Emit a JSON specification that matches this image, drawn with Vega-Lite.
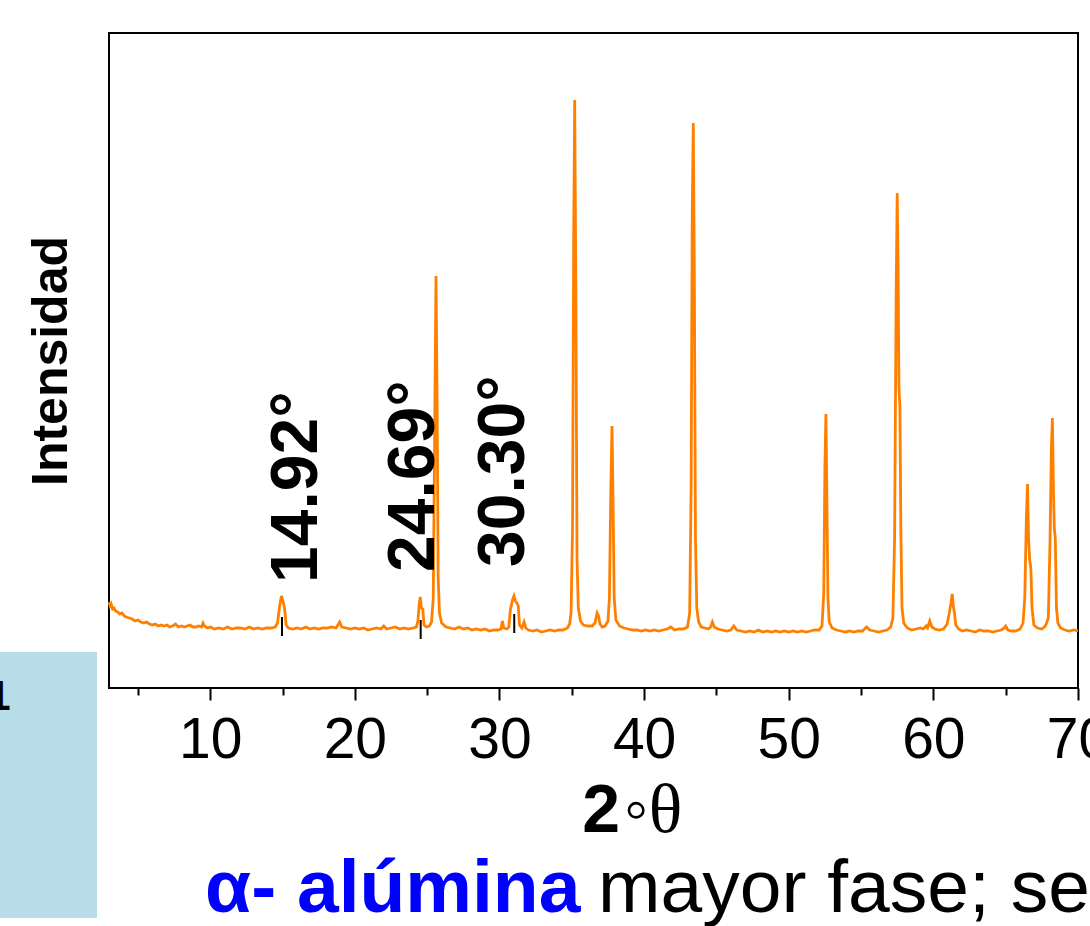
{
  "$schema": "https://vega.github.io/schema/vega-lite/v6.json",
  "width": 969,
  "height": 655,
  "autosize": {"type": "none"},
  "padding": {"left": 109, "top": 33, "right": 12, "bottom": 238},
  "background": "white",
  "config": {
    "view": {"stroke": "black", "strokeWidth": 2},
    "font": "Liberation Sans"
  },
  "datasets": {
    "xrd": [
      {"t":3.00,"i":86},{"t":3.08,"i":82},{"t":3.15,"i":84},{"t":3.25,"i":79},{"t":3.35,"i":80},{"t":3.45,"i":77},{"t":3.6,"i":76},{"t":3.75,"i":74},{"t":3.9,"i":75},{"t":4.05,"i":72},{"t":4.2,"i":71},{"t":4.4,"i":70},{"t":4.6,"i":69},{"t":4.8,"i":67},{"t":5.0,"i":68},{"t":5.2,"i":66},{"t":5.4,"i":65},{"t":5.6,"i":66},{"t":5.8,"i":64},{"t":6.0,"i":63},{"t":6.2,"i":64},{"t":6.4,"i":62},{"t":6.6,"i":63},{"t":6.8,"i":62},{"t":7.0,"i":63},{"t":7.2,"i":61},{"t":7.4,"i":62},{"t":7.6,"i":64},{"t":7.8,"i":61},{"t":8.0,"i":62},{"t":8.2,"i":61},{"t":8.4,"i":62},{"t":8.6,"i":63},{"t":8.8,"i":61},{"t":9.0,"i":61},{"t":9.2,"i":62},{"t":9.4,"i":61},{"t":9.5,"i":65},{"t":9.6,"i":62},{"t":9.8,"i":60},{"t":10.0,"i":61},{"t":10.3,"i":59},{"t":10.6,"i":60},{"t":10.9,"i":59},{"t":11.2,"i":61},{"t":11.5,"i":59},{"t":11.8,"i":60},{"t":12.1,"i":60},{"t":12.4,"i":59},{"t":12.7,"i":61},{"t":13.0,"i":59},{"t":13.3,"i":60},{"t":13.6,"i":59},{"t":13.9,"i":60},{"t":14.2,"i":60},{"t":14.5,"i":61},{"t":14.65,"i":65},{"t":14.8,"i":82},{"t":14.92,"i":92},{"t":15.05,"i":86},{"t":15.15,"i":78},{"t":15.25,"i":63},{"t":15.4,"i":60},{"t":15.7,"i":59},{"t":16.0,"i":60},{"t":16.3,"i":59},{"t":16.6,"i":61},{"t":16.9,"i":59},{"t":17.2,"i":60},{"t":17.5,"i":59},{"t":17.8,"i":60},{"t":18.1,"i":60},{"t":18.4,"i":61},{"t":18.7,"i":60},{"t":18.95,"i":66},{"t":19.1,"i":61},{"t":19.4,"i":60},{"t":19.7,"i":59},{"t":20.0,"i":60},{"t":20.3,"i":59},{"t":20.6,"i":60},{"t":20.9,"i":58},{"t":21.2,"i":59},{"t":21.5,"i":60},{"t":21.8,"i":59},{"t":22.0,"i":62},{"t":22.2,"i":59},{"t":22.5,"i":60},{"t":22.8,"i":61},{"t":23.1,"i":59},{"t":23.4,"i":60},{"t":23.7,"i":59},{"t":24.0,"i":60},{"t":24.25,"i":61},{"t":24.35,"i":66},{"t":24.45,"i":84},{"t":24.52,"i":91},{"t":24.6,"i":80},{"t":24.7,"i":79},{"t":24.78,"i":63},{"t":24.95,"i":61},{"t":25.15,"i":62},{"t":25.3,"i":66},{"t":25.42,"i":90},{"t":25.52,"i":260},{"t":25.61,"i":412},{"t":25.68,"i":300},{"t":25.76,"i":110},{"t":25.85,"i":75},{"t":26.0,"i":65},{"t":26.3,"i":61},{"t":26.6,"i":60},{"t":26.9,"i":59},{"t":27.2,"i":61},{"t":27.5,"i":59},{"t":27.8,"i":60},{"t":28.1,"i":58},{"t":28.4,"i":59},{"t":28.7,"i":58},{"t":29.0,"i":59},{"t":29.3,"i":57},{"t":29.6,"i":58},{"t":29.9,"i":58},{"t":30.1,"i":59},{"t":30.2,"i":67},{"t":30.3,"i":60},{"t":30.5,"i":59},{"t":30.65,"i":61},{"t":30.75,"i":78},{"t":30.9,"i":88},{"t":31.0,"i":92},{"t":31.1,"i":87},{"t":31.2,"i":85},{"t":31.3,"i":82},{"t":31.38,"i":63},{"t":31.55,"i":60},{"t":31.7,"i":66},{"t":31.82,"i":60},{"t":32.0,"i":58},{"t":32.3,"i":57},{"t":32.6,"i":58},{"t":32.9,"i":56},{"t":33.2,"i":57},{"t":33.5,"i":58},{"t":33.8,"i":57},{"t":34.1,"i":58},{"t":34.4,"i":58},{"t":34.7,"i":60},{"t":34.85,"i":64},{"t":34.95,"i":75},{"t":35.05,"i":160},{"t":35.13,"i":450},{"t":35.2,"i":588},{"t":35.28,"i":400},{"t":35.36,"i":130},{"t":35.45,"i":80},{"t":35.6,"i":67},{"t":35.8,"i":63},{"t":36.1,"i":62},{"t":36.4,"i":62},{"t":36.6,"i":65},{"t":36.75,"i":75},{"t":36.85,"i":72},{"t":36.95,"i":64},{"t":37.1,"i":61},{"t":37.3,"i":62},{"t":37.5,"i":67},{"t":37.6,"i":90},{"t":37.7,"i":200},{"t":37.78,"i":262},{"t":37.85,"i":190},{"t":37.93,"i":90},{"t":38.05,"i":68},{"t":38.3,"i":62},{"t":38.6,"i":60},{"t":38.9,"i":59},{"t":39.2,"i":58},{"t":39.5,"i":58},{"t":39.8,"i":57},{"t":40.1,"i":58},{"t":40.4,"i":57},{"t":40.7,"i":58},{"t":41.0,"i":57},{"t":41.3,"i":58},{"t":41.6,"i":59},{"t":41.85,"i":61},{"t":42.1,"i":58},{"t":42.4,"i":59},{"t":42.7,"i":59},{"t":43.0,"i":61},{"t":43.15,"i":75},{"t":43.25,"i":200},{"t":43.33,"i":480},{"t":43.4,"i":565},{"t":43.47,"i":420},{"t":43.55,"i":150},{"t":43.64,"i":80},{"t":43.77,"i":66},{"t":43.95,"i":61},{"t":44.2,"i":60},{"t":44.45,"i":59},{"t":44.6,"i":61},{"t":44.72,"i":66},{"t":44.85,"i":61},{"t":45.1,"i":59},{"t":45.4,"i":58},{"t":45.7,"i":57},{"t":46.0,"i":58},{"t":46.2,"i":62},{"t":46.4,"i":58},{"t":46.7,"i":57},{"t":47.0,"i":56},{"t":47.3,"i":57},{"t":47.6,"i":56},{"t":47.9,"i":58},{"t":48.2,"i":56},{"t":48.5,"i":57},{"t":48.8,"i":56},{"t":49.1,"i":57},{"t":49.4,"i":56},{"t":49.7,"i":57},{"t":50.0,"i":56},{"t":50.3,"i":57},{"t":50.6,"i":56},{"t":50.9,"i":57},{"t":51.2,"i":56},{"t":51.5,"i":57},{"t":51.8,"i":58},{"t":52.1,"i":58},{"t":52.3,"i":62},{"t":52.42,"i":95},{"t":52.5,"i":220},{"t":52.57,"i":274},{"t":52.63,"i":200},{"t":52.71,"i":90},{"t":52.8,"i":66},{"t":53.0,"i":60},{"t":53.3,"i":58},{"t":53.6,"i":57},{"t":53.9,"i":56},{"t":54.2,"i":57},{"t":54.5,"i":56},{"t":54.8,"i":57},{"t":55.1,"i":57},{"t":55.38,"i":61},{"t":55.6,"i":58},{"t":55.9,"i":57},{"t":56.2,"i":56},{"t":56.5,"i":57},{"t":56.8,"i":58},{"t":57.05,"i":61},{"t":57.2,"i":70},{"t":57.32,"i":150},{"t":57.43,"i":400},{"t":57.5,"i":495},{"t":57.56,"i":420},{"t":57.62,"i":300},{"t":57.69,"i":280},{"t":57.75,"i":160},{"t":57.83,"i":80},{"t":57.95,"i":65},{"t":58.2,"i":60},{"t":58.5,"i":58},{"t":58.8,"i":59},{"t":59.1,"i":60},{"t":59.3,"i":59},{"t":59.5,"i":62},{"t":59.6,"i":60},{"t":59.75,"i":67},{"t":59.9,"i":61},{"t":60.1,"i":59},{"t":60.4,"i":58},{"t":60.7,"i":59},{"t":60.95,"i":64},{"t":61.1,"i":75},{"t":61.22,"i":85},{"t":61.3,"i":94},{"t":61.38,"i":82},{"t":61.45,"i":76},{"t":61.55,"i":63},{"t":61.75,"i":59},{"t":62.0,"i":57},{"t":62.3,"i":58},{"t":62.6,"i":57},{"t":62.9,"i":56},{"t":63.2,"i":58},{"t":63.5,"i":57},{"t":63.8,"i":57},{"t":64.1,"i":56},{"t":64.4,"i":57},{"t":64.7,"i":58},{"t":64.9,"i":60},{"t":65.0,"i":62},{"t":65.15,"i":58},{"t":65.4,"i":57},{"t":65.7,"i":57},{"t":66.0,"i":59},{"t":66.2,"i":65},{"t":66.32,"i":90},{"t":66.43,"i":170},{"t":66.51,"i":204},{"t":66.58,"i":150},{"t":66.66,"i":128},{"t":66.74,"i":120},{"t":66.82,"i":80},{"t":66.95,"i":63},{"t":67.2,"i":60},{"t":67.5,"i":59},{"t":67.75,"i":62},{"t":67.95,"i":70},{"t":68.07,"i":150},{"t":68.16,"i":240},{"t":68.23,"i":270},{"t":68.3,"i":200},{"t":68.36,"i":160},{"t":68.43,"i":150},{"t":68.51,"i":80},{"t":68.61,"i":65},{"t":68.8,"i":60},{"t":69.1,"i":58},{"t":69.4,"i":57},{"t":69.7,"i":58},{"t":70.0,"i":57}
    ],
    "marks": [
      {"lab":"14.92°","lx":16.0,"ly":105,"rt":14.96,"r1":71,"r2":52},
      {"lab":"24.69°","lx":24.09,"ly":116,"rt":24.55,"r1":68,"r2":49},
      {"lab":"30.30°","lx":30.31,"ly":121,"rt":31.02,"r1":74,"r2":55}
    ]
  },
  "layer": [
    {
      "data": {"values": [{"k": "box"}]},
      "mark": {"type": "rect", "color": "#B7DDE8"},
      "encoding": {
        "x": {"datum": -4.54, "type": "quantitative"},
        "x2": {"datum": 2.17},
        "y": {"datum": 36, "type": "quantitative"},
        "y2": {"datum": -230}
      }
    },
    {
      "data": {"name": "xrd"},
      "mark": {"type": "line", "color": "#FF8000", "strokeWidth": 2.8, "interpolate": "linear"},
      "encoding": {
        "x": {
          "field": "t", "type": "quantitative",
          "scale": {"domain": [3, 70], "nice": false, "zero": false},
          "axis": {
            "title": null,
            "values": [5,10,15,20,25,30,35,40,45,50,55,60,65,70],
            "labelExpr": "datum.value % 10 === 0 ? datum.label : ''",
            "tickSize": {"condition": {"test": "datum.value % 10 === 0", "value": 12}, "value": 7},
            "tickWidth": 2,
            "tickColor": "black",
            "domain": false,
            "grid": false,
            "labelFont": "Liberation Sans",
            "labelFontSize": 57,
            "labelColor": "black",
            "labelPadding": 12,
            "labelFlush": false,
            "labelOverlap": false
          }
        },
        "y": {
          "field": "i", "type": "quantitative",
          "scale": {"domain": [0, 655], "nice": false, "zero": false},
          "axis": {
            "title": "Intensidad",
            "labels": false,
            "ticks": false,
            "domain": false,
            "grid": false,
            "titleFont": "Liberation Sans",
            "titleFontSize": 50,
            "titleFontWeight": "bold",
            "titleColor": "black",
            "titlePadding": 33
          }
        }
      }
    },
    {
      "data": {"name": "marks"},
      "mark": {"type": "rule", "color": "black", "strokeWidth": 2},
      "encoding": {
        "x": {"field": "rt", "type": "quantitative"},
        "y": {"field": "r1", "type": "quantitative"},
        "y2": {"field": "r2"}
      }
    },
    {
      "data": {"name": "marks"},
      "mark": {"type": "text", "angle": 270, "align": "left", "baseline": "middle", "font": "Liberation Sans", "fontSize": 66, "fontWeight": "bold", "color": "black"},
      "encoding": {
        "x": {"field": "lx", "type": "quantitative"},
        "y": {"field": "ly", "type": "quantitative"},
        "text": {"field": "lab"}
      }
    },
    {
      "data": {"values": [{"txt": "2"}]},
      "mark": {"type": "text", "align": "left", "baseline": "alphabetic", "font": "Liberation Sans", "fontSize": 68, "fontWeight": "bold", "color": "black"},
      "encoding": {
        "x": {"datum": 35.72, "type": "quantitative"},
        "y": {"datum": -144, "type": "quantitative"},
        "text": {"field": "txt"}
      }
    },
    {
      "data": {"values": [{"txt": "◦θ"}]},
      "mark": {"type": "text", "align": "left", "baseline": "alphabetic", "font": "Liberation Serif", "fontSize": 70, "color": "black"},
      "encoding": {
        "x": {"datum": 38.6, "type": "quantitative"},
        "y": {"datum": -144, "type": "quantitative"},
        "text": {"field": "txt"}
      }
    },
    {
      "data": {"values": [{"txt": "α- alúmina"}]},
      "mark": {"type": "text", "align": "left", "baseline": "alphabetic", "font": "Liberation Sans", "fontSize": 75, "fontWeight": "bold", "color": "#0000FF"},
      "encoding": {
        "x": {"datum": 9.64, "type": "quantitative"},
        "y": {"datum": -224, "type": "quantitative"},
        "text": {"field": "txt"}
      }
    },
    {
      "data": {"values": [{"txt": "mayor fase; se"}]},
      "mark": {"type": "text", "align": "left", "baseline": "alphabetic", "font": "Liberation Sans", "fontSize": 75, "color": "black"},
      "encoding": {
        "x": {"datum": 36.81, "type": "quantitative"},
        "y": {"datum": -224, "type": "quantitative"},
        "text": {"field": "txt"}
      }
    },
    {
      "data": {"values": [{"txt": "1"}]},
      "mark": {"type": "text", "align": "right", "baseline": "alphabetic", "font": "Liberation Sans", "fontSize": 42, "fontWeight": "bold", "color": "black"},
      "encoding": {
        "x": {"datum": -3.8, "type": "quantitative"},
        "y": {"datum": -22, "type": "quantitative"},
        "text": {"field": "txt"}
      }
    }
  ]
}
